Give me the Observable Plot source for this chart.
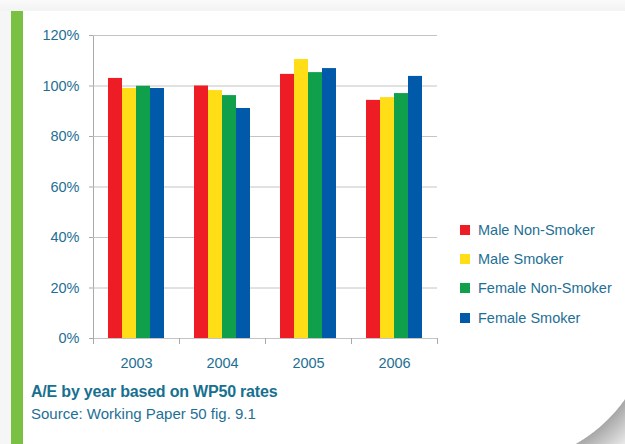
<!DOCTYPE html>
<html><head><meta charset="utf-8">
<script src="https://cdn.jsdelivr.net/npm/d3@7"></script>
<script src="https://cdn.jsdelivr.net/npm/@observablehq/plot@0.6"></script>
<style>
html,body{margin:0;padding:0;background:#fff;}
#page{position:relative;width:625px;height:444px;overflow:hidden;font-family:"Liberation Sans",Arial,sans-serif;background:#fff;}
#curl{position:absolute;left:500px;top:311px;width:125px;height:133px;
  background:radial-gradient(circle 260px at 0px 0px,#ffffff 152.5px,#a8a8a8 153.5px,#f2f2f2 186px,#f2f2f2 260px);}
#topband{position:absolute;left:0;top:0;width:625px;height:11px;background:linear-gradient(#fafafa,#f3f3f3);}
#leftband{position:absolute;left:0;top:11px;width:11px;height:433px;background:#f6f6f6;}
#greenbar{position:absolute;left:11px;top:11px;width:12px;height:433px;background:#7ac143;}
#chart{position:absolute;left:0;top:0;}
#chart svg text{fill:#1e6f95;}
#legend{position:absolute;left:460px;top:215px;}
.li{display:flex;align-items:center;height:29.3px;font-size:14.5px;color:#1e6f95;white-space:nowrap;}
.sw{width:10px;height:10px;margin-right:8px;}
#title{position:absolute;left:31px;top:383px;font-size:16px;font-weight:bold;letter-spacing:-0.2px;color:#17708f;white-space:nowrap;}
#source{position:absolute;left:31px;top:405px;font-size:15px;color:#1e6f95;white-space:nowrap;}
</style></head>
<body>
<div id="page">
  <div id="curl"></div>
  <div id="topband"></div>
  <div id="leftband"></div>
  <div id="greenbar"></div>
  <div id="chart"></div>
  <div id="legend"></div>
  <div id="title">A/E by year based on WP50 rates</div>
  <div id="source">Source: Working Paper 50 fig. 9.1</div>
</div>
<script>
const years = ["2003", "2004", "2005", "2006"];
const series = ["Male Non-Smoker", "Male Smoker", "Female Non-Smoker", "Female Smoker"];
const maleNonSmoker   = [103.0, 100.0, 104.6, 94.3];
const maleSmoker      = [99.0, 98.2, 110.5, 95.4];
const femaleNonSmoker = [99.9, 96.2, 105.3, 97.0];
const femaleSmoker    = [99.0, 91.1, 106.9, 103.8];
const colors = ["#ee1d25", "#ffdd17", "#10a04b", "#0059a9"];
const yTicks = [0, 20, 40, 60, 80, 100, 120];

const valuesBySeries = [maleNonSmoker, maleSmoker, femaleNonSmoker, femaleSmoker];
const data = [];
years.forEach((yr, i) => series.forEach((s, j) => data.push({year: yr, series: s, value: valuesBySeries[j][i]})));

const chart = Plot.plot({
  width: 625,
  height: 370,
  marginLeft: 92,
  marginRight: 188,
  marginTop: 35,
  marginBottom: 32,
  style: {fontFamily: "'Liberation Sans', Arial, sans-serif", fontSize: "14.5px", color: "#a9a9a9", background: "transparent", overflow: "visible"},
  facet: {data, x: "year"},
  fx: {domain: years, paddingInner: 0, paddingOuter: 0, tickSize: 0, tickPadding: 19, label: null},
  x: {domain: series, axis: null, paddingInner: 0, paddingOuter: 0.875},
  y: {domain: [0, 120], ticks: yTicks, tickFormat: d => d + "%", tickSize: 4, tickPadding: 10, line: true, label: null},
  color: {domain: series, range: colors},
  marks: [
    Plot.ruleY(yTicks, {stroke: "#c4c4c4", strokeWidth: 1}),
    Plot.frame({anchor: "left", insetTop: 303, insetBottom: -5, stroke: "#a9a9a9"}),
    Plot.frame({anchor: "right", insetTop: 303, insetBottom: -5, stroke: "#a9a9a9"}),
    Plot.barY(data, {x: "series", y: "value", fill: "series"})
  ]
});
document.getElementById("chart").appendChild(chart);

const legend = document.getElementById("legend");
series.forEach((s, j) => {
  const row = document.createElement("div");
  row.className = "li";
  const sw = document.createElement("div");
  sw.className = "sw";
  sw.style.background = colors[j];
  const t = document.createElement("span");
  t.textContent = s;
  row.appendChild(sw); row.appendChild(t);
  legend.appendChild(row);
});
</script>
</body></html>
